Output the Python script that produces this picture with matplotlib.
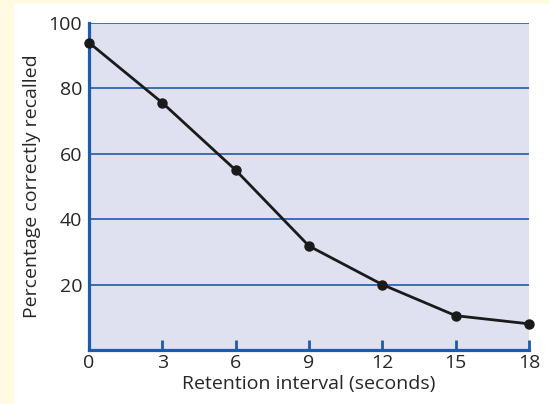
import matplotlib
matplotlib.use("Agg")
import matplotlib.pyplot as plt
from matplotlib.patches import Rectangle

intervals = [0, 3, 6, 9, 12, 15, 18]
recalled = [94, 75.6, 55, 31.8, 20, 10.5, 8]
x_ticks = [0, 3, 6, 9, 12, 15, 18]
y_ticks = [20, 40, 60, 80, 100]

plt.rcParams['font.family'] = ['Open Sans', 'DejaVu Sans']

W, H = 549, 404
fig = plt.figure(figsize=(W / 100, H / 100), dpi=100)
fig.patch.set_facecolor('#FFFBE3')
fig.patches.append(Rectangle((14 / W, 0), 1 - 14 / W, (H - 4) / H,
                             transform=fig.transFigure, facecolor='white',
                             edgecolor='none', zorder=-10))

ax = fig.add_axes([89 / W, 1 - 350 / H, (529 - 89) / W, (350 - 23) / H])
ax.set_zorder(5)
ax.set_facecolor('#DFE0F0')
blue = '#1F5BAA'
txt = '#262626'

ax.set_xlim(0, 18)
ax.set_ylim(0, 100)

for y in y_ticks:
    ax.axhline(y, color=blue, lw=1.2, zorder=1)

ax.plot(intervals, recalled, color='#1a1a1a', lw=2, marker='o',
        markersize=6.5, zorder=3, clip_on=False)

for s in ['top', 'right']:
    ax.spines[s].set_visible(False)
for s in ['left', 'bottom']:
    ax.spines[s].set_color(blue)
    ax.spines[s].set_linewidth(2.3)

ax.set_xticks(x_ticks)
ax.set_yticks(y_ticks)
ax.tick_params(axis='x', direction='in', length=7, width=2, color=blue,
               labelsize=14, pad=3, labelcolor=txt)
ax.tick_params(axis='y', length=0, labelsize=14, pad=5, labelcolor=txt)

ax.set_xlabel('Retention interval (seconds)', fontsize=14, color=txt, labelpad=2)
ax.set_ylabel('Percentage correctly recalled', fontsize=14, color=txt, labelpad=5)

fig.savefig('out.png', dpi=100, facecolor=fig.get_facecolor())
